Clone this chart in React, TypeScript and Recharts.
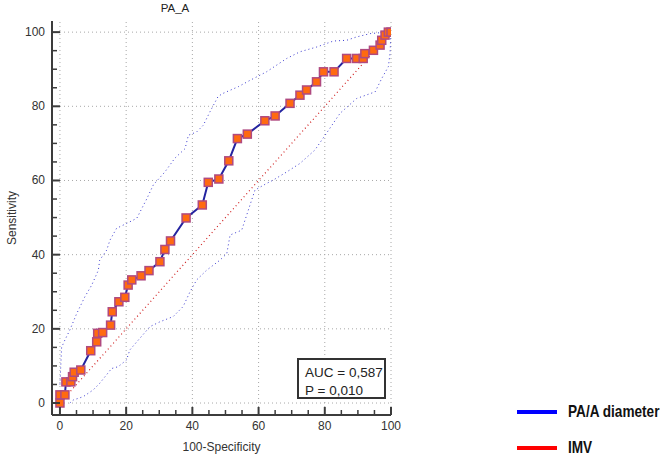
import React from "react"
import { ComposedChart, Line, XAxis, YAxis, ReferenceLine, Legend } from "recharts"

// ROC curve points (100-specificity, sensitivity)
const rocFpr = [0, 0, 1.5, 1.8, 3.3, 3.8, 4.3, 6.3, 9.3, 11.1, 11.4, 12.9, 15.3, 15.8, 17.8, 19.6, 20.6, 21.7, 24.5, 26.9, 30.2, 31.7, 33.4, 38.1, 43, 44.8, 48, 51, 53.6, 56.6, 61.9, 65, 69.5, 72.5, 74.5, 77.5, 79.6, 82.8, 86.6, 89.6, 91.6, 92.1, 94.7, 96.7, 97.2, 98.2, 99.2, 100]
const rocTpr = [0, 2.2, 2.2, 5.7, 5.7, 7.1, 8.3, 8.9, 14.1, 16.5, 18.8, 19, 21, 24.6, 27.3, 28.5, 31.8, 33.2, 34.3, 35.7, 38.1, 41.4, 43.7, 49.9, 53.4, 59.5, 60.4, 65.3, 71.3, 72.5, 76.1, 77.4, 80.8, 83, 84.4, 86.6, 89.3, 89.3, 92.9, 92.9, 92.9, 94.2, 95.1, 96.5, 97.8, 99.2, 100, 100]

// 95% confidence bounds
const upperFpr = [0, 0.5, 1.5, 3, 5, 7.5, 9.6, 11.6, 12, 14.1, 15.1, 17.1, 20.1, 23.2, 26.2, 28.2, 31.7, 34.7, 37.8, 38.8, 41.3, 43.3, 45.3, 47.8, 49.3, 53.9, 57.4, 62.4, 68.5, 72.5, 77.6, 82.6, 86.6, 89.6, 93.7, 98.7, 100]
const upperTpr = [5, 15, 17, 19.7, 24, 28.6, 31.8, 35.8, 38.5, 41.2, 43.9, 47.1, 48.4, 49.8, 55, 58.8, 62.3, 66, 68.6, 72.2, 73.1, 74.9, 78.5, 82.7, 83.5, 85.3, 87, 89.3, 92.9, 94.7, 96, 97.6, 97.8, 98.7, 99.6, 100, 100]
const lowerFpr = [3, 4, 7, 10, 12, 15.6, 17.6, 20.1, 21.1, 23.7, 27.2, 30.2, 34.2, 37.2, 39.3, 41.3, 44.3, 48.3, 50.4, 51.4, 54.9, 58.9, 62.4, 64.4, 68.5, 72.5, 77, 80.1, 84.6, 89.6, 95.2, 97.2, 99.2, 99.7, 100]
const lowerTpr = [0, 0.8, 1.7, 3.5, 5.3, 9.3, 9.8, 11.6, 14.3, 17, 20.6, 21.9, 23.3, 26, 30, 33.2, 35.8, 38.5, 40.3, 45.3, 46.6, 57.4, 59.2, 60.1, 62.3, 64.6, 68.2, 72.2, 78.1, 82.1, 83.9, 87.5, 90.7, 94.2, 100]

const diagFpr = [0, 100]
const diagTpr = [0, 100]

const axisTicks = [0, 5, 10, 15, 20, 25, 30, 35, 40, 45, 50, 55, 60, 65, 70, 75, 80, 85, 90, 95, 100]
const gridValues = [0, 20, 40, 60, 80, 100]

const legendItems = [
  { label: "PA/A diameter", color: "#0000ff" },
  { label: "IMV", color: "#ff0000" },
]

const aucText = ["AUC = 0,587", "P = 0,010"]

const toRows = (xs: number[], ys: number[]) => xs.map((x, i) => ({ x, y: ys[i] }))

const rocData = toRows(rocFpr, rocTpr)
const upperData = toRows(upperFpr, upperTpr)
const lowerData = toRows(lowerFpr, lowerTpr)
const diagData = toRows(diagFpr, diagTpr)

const font = "'Liberation Sans', Arial, sans-serif"
const axisColor = "#3c3c3c"

function YTick(props: any) {
  const { x, y, payload } = props
  const major = payload.value % 20 === 0
  return (
    <g>
      <line x1={x} x2={x + (major ? 8 : 5)} y1={y} y2={y} stroke={axisColor} strokeWidth={major ? 2 : 1.5} />
      {major && (
        <text x={x - 7} y={y + 4} textAnchor="end" fontSize={12} fontFamily={font} fill="#333">
          {payload.value}
        </text>
      )}
    </g>
  )
}

function XTick(props: any) {
  const { x, y, payload } = props
  const major = payload.value % 20 === 0
  return (
    <g>
      <line x1={x} x2={x} y1={y} y2={y - (major ? 8 : 5)} stroke={axisColor} strokeWidth={major ? 2 : 1.5} />
      {major && (
        <text x={x} y={y + 15} textAnchor="middle" fontSize={12} fontFamily={font} fill="#333">
          {payload.value}
        </text>
      )}
    </g>
  )
}

function SquareDot(props: any) {
  const { cx, cy, index } = props
  if (cx == null || cy == null) return null
  return <rect key={index} x={cx - 4} y={cy - 4} width={8} height={8} fill="#ff6a10" stroke="#b04a80" strokeWidth={1.5} />
}

function LegendBox() {
  return (
    <div style={{ fontFamily: font, fontWeight: "bold", fontSize: 17, color: "#111", whiteSpace: "nowrap" }}>
      {legendItems.map(it => (
        <div key={it.label} style={{ display: "flex", alignItems: "center", height: 36 }}>
          <div style={{ width: 40, height: 4, background: it.color, marginRight: 11, flex: "none" }} />
          <span style={{ display: "inline-block", transform: "scaleX(0.8)", transformOrigin: "left center" }}>{it.label}</span>
        </div>
      ))}
    </div>
  )
}

export default function App() {
  return (
    <div style={{ position: "absolute", left: 0, top: 0, width: 669, height: 459, background: "#fff", fontFamily: font, overflow: "hidden" }}>
      <div style={{ position: "absolute", left: 0, width: 350, top: 0, textAlign: "center", fontSize: 11.5, lineHeight: "16px", color: "#222" }}>
        PA_A
      </div>
      <ComposedChart width={669} height={459} margin={{ top: 21, right: 278, bottom: 14, left: 12 }}>
        <XAxis
          type="number"
          dataKey="x"
          domain={[-2.4, 100]}
          allowDataOverflow
          ticks={axisTicks}
          interval={0}
          tickLine={false}
          tickSize={0}
          tickMargin={0}
          tick={<XTick />}
          height={30}
          axisLine={{ stroke: axisColor, strokeWidth: 2 }}
          label={{
            content: (p: any) => (
              <text x={p.viewBox.x + p.viewBox.width / 2} y={p.viewBox.y + 36} textAnchor="middle" fontSize={12} fontFamily={font} fill="#333">
                100-Specificity
              </text>
            ),
          }}
        />
        <YAxis
          type="number"
          dataKey="y"
          domain={[-3.23, 103]}
          allowDataOverflow
          ticks={axisTicks}
          interval={0}
          tickLine={false}
          tickSize={0}
          tickMargin={0}
          tick={<YTick />}
          width={40}
          axisLine={{ stroke: axisColor, strokeWidth: 2 }}
          label={{
            content: (p: any) => {
              const cx = p.viewBox.x
              const cy = p.viewBox.y + p.viewBox.height / 2
              return (
                <text x={cx} y={cy} transform={`rotate(-90 ${cx} ${cy})`} textAnchor="middle" dominantBaseline="central" fontSize={12} fontFamily={font} fill="#333">
                  Sensitivity
                </text>
              )
            },
          }}
        />
        {gridValues.map(v => (
          <ReferenceLine key={"gx" + v} x={v} stroke="#a8a8a8" strokeDasharray="1 3" />
        ))}
        {gridValues.map(v => (
          <ReferenceLine key={"gy" + v} y={v} stroke="#a8a8a8" strokeDasharray="1 3" />
        ))}
        <Line data={upperData} dataKey="y" type="linear" stroke="#3a3ad0" strokeWidth={1} strokeDasharray="1 3" dot={false} isAnimationActive={false} />
        <Line data={lowerData} dataKey="y" type="linear" stroke="#3a3ad0" strokeWidth={1} strokeDasharray="1 3" dot={false} isAnimationActive={false} />
        <Line data={diagData} dataKey="y" type="linear" stroke="#d02020" strokeWidth={1.2} strokeDasharray="1 3" dot={false} isAnimationActive={false} />
        <Line data={rocData} dataKey="y" type="linear" stroke="#2424a0" strokeWidth={2} dot={<SquareDot />} isAnimationActive={false} />
        <Legend
          layout="vertical"
          align="center"
          verticalAlign="middle"
          content={() => <LegendBox />}
          wrapperStyle={{ position: "absolute", left: 517, top: 394, width: 152 }}
        />
      </ComposedChart>
      <div
        style={{
          position: "absolute",
          left: 297,
          top: 358,
          width: 89,
          height: 41,
          border: "2px solid #333",
          background: "#fff",
          fontSize: 13.5,
          lineHeight: "18px",
          color: "#222",
          padding: "4px 0 0 6px",
          boxSizing: "border-box",
        }}
      >
        {aucText.map(t => (
          <div key={t}>{t}</div>
        ))}
      </div>
    </div>
  )
}
